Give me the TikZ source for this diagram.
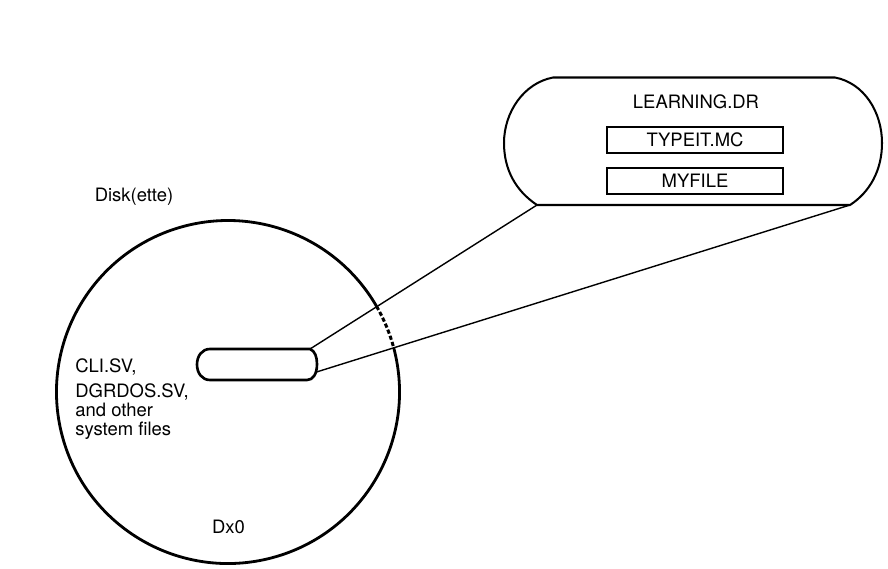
\documentclass[tikz,border=0pt]{standalone}
\usepackage{fontspec}
\setmainfont{TeX Gyre Heros}
\usetikzlibrary{positioning}

\tikzset{
link/.style={line width=0.8pt},
filebox/.style={draw, line width=1.1pt, minimum width=3.52cm, minimum height=0.51cm, inner sep=0pt}
}

\begin{document}
\begin{tikzpicture}[x=0.02cm,y=-0.02cm,font=\fontsize{10.5}{10.8}\selectfont]

\fill[white, use as bounding box] (0,0) rectangle (888,568);

%%%%%%%%%%%%%%%%%%%%%%%%%%%%%%%%%%%%%%%%%%%%%%%%%%%%%%%%%%%%
% DISK
%%%%%%%%%%%%%%%%%%%%%%%%%%%%%%%%%%%%%%%%%%%%%%%%%%%%%%%%%%%%

\coordinate (disk) at (228,392);

\draw[line width=1.6pt]
(disk) ++(-14.9:171.5) arc[start angle=-14.9, end angle=330, radius=171.5];

\draw[line width=1.7pt, dash pattern=on 2.4pt off 1.3pt]
(disk) ++(-30:171.5) arc[start angle=-30, end angle=-14.9, radius=171.5];

\node[anchor=base] (disklabel) at (134,201) {Disk(ette)};

\node[
anchor=north west,
align=left,
inner sep=0pt
](systemfiles)
at (75,358)
{CLI.SV,\\[3.4pt]DGRDOS.SV,\\and other\\system files};

\node[anchor=base] (dxzero) at (228.5,533) {Dx0};

%%%%%%%%%%%%%%%%%%%%%%%%%%%%%%%%%%%%%%%%%%%%%%%%%%%%%%%%%%%%
% Directory on the disk
%%%%%%%%%%%%%%%%%%%%%%%%%%%%%%%%%%%%%%%%%%%%%%%%%%%%%%%%%%%%

\coordinate (dirtop) at (310,349);
\coordinate (dirside) at (316.5,372);

\draw[line width=1.5pt]
(210,349) -- (dirtop)
.. controls (315,351) and (317,357) .. (317,364)
.. controls (317,374) and (313,380) .. (307,380)
-- (210,380)
.. controls (202,380) and (197,373) .. (197,364.5)
.. controls (197,356) and (202,349) .. (210,349) -- cycle;

%%%%%%%%%%%%%%%%%%%%%%%%%%%%%%%%%%%%%%%%%%%%%%%%%%%%%%%%%%%%
% LEARNING.DR enlarged
%%%%%%%%%%%%%%%%%%%%%%%%%%%%%%%%%%%%%%%%%%%%%%%%%%%%%%%%%%%%

\coordinate (learnleft) at (537,205);
\coordinate (learnright) at (850,205);

\draw[line width=1.15pt]
(learnleft)
.. controls (516,191) and (504,170) .. (504,143)
.. controls (504,112) and (524,83) .. (553,77.5)
-- (835,77.5)
.. controls (864,83) and (882,112) .. (882,143)
.. controls (882,170) and (870,192) .. (learnright)
-- cycle;

\node[anchor=base] (learning) at (696,108) {LEARNING.DR};

\node[filebox] (typeit) at (695,140) {TYPEIT.MC};

\node[filebox, below=0.27cm of typeit] (myfile) {MYFILE};

%%%%%%%%%%%%%%%%%%%%%%%%%%%%%%%%%%%%%%%%%%%%%%%%%%%%%%%%%%%%
% Zoom lines
%%%%%%%%%%%%%%%%%%%%%%%%%%%%%%%%%%%%%%%%%%%%%%%%%%%%%%%%%%%%

\draw[link] (dirtop) -- (learnleft);
\draw[link] (dirside) -- (learnright);

\end{tikzpicture}
\end{document}
